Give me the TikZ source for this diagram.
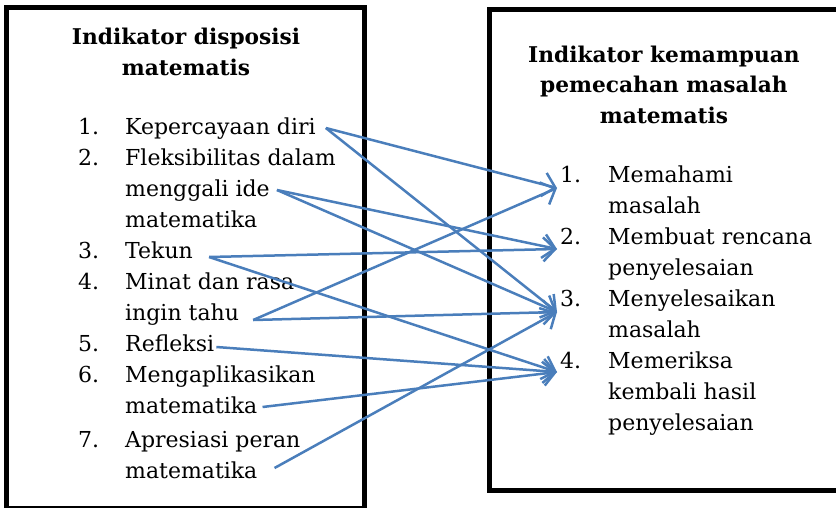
\documentclass[tikz,border=0pt]{standalone}
\usepackage{fontspec}
\setmainfont{DejaVu Serif}
\usetikzlibrary{arrows.meta}
\definecolor{garisbiru}{RGB}{74,126,187}
\newcommand{\isifont}{\fontsize{22}{31}\selectfont}
\newcommand{\judulfont}{\fontsize{21.7}{30.5}\selectfont\bfseries}

\begin{document}
\begin{tikzpicture}[x=1pt,y=-1pt,
	kotak/.style={draw,line width=5pt},
	judul/.style={font=\judulfont,align=center,anchor=base,inner sep=0pt},
	nomor/.style={font=\isifont,anchor=base west,inner sep=0pt},
	baris/.style={font=\isifont,anchor=base west,inner sep=0pt},
	panah/.style={draw=garisbiru,line width=2.5pt,-{Straight Barb[length=12pt,width=24pt]}}]
	\useasboundingbox (0,0) rectangle (836,507);
	\clip (0,0) rectangle (836,507);
	% kotak kiri dan kanan
	\draw[kotak] (6.5,7.5) rectangle (364.5,508.5);
	\draw[kotak] (489,9.5) rectangle (842,490.5);
	% disposisi
	\node[judul](jkiri) at (186,75) {Indikator disposisi\\matematis};
	\node[nomor](n1) at (78,134) {1.};
	\node[baris](kep) at (125,134) {Kepercayaan diri};
	\node[nomor](n2) at (78,165) {2.};
	\node[baris](fleks) at (125,165) {Fleksibilitas dalam};
	\node[baris](ide) at (125,196) {menggali ide};
	\node[baris](ide2) at (125,227) {matematika};
	\node[nomor](n3) at (78,258) {3.};
	\node[baris](tekun) at (125,258) {Tekun};
	\node[nomor](n4) at (78,289) {4.};
	\node[baris](minat) at (125,289) {Minat dan rasa};
	\node[baris](tahu) at (125,320) {ingin tahu};
	\node[nomor](n5) at (78,351) {5.};
	\node[baris](refl) at (125,351) {Refleksi};
	\node[nomor](n6) at (78,382) {6.};
	\node[baris](aplik) at (125,382) {Mengaplikasikan};
	\node[baris](aplik2) at (125,413) {matematika};
	\node[nomor](n7) at (78,447) {7.};
	\node[baris](apres) at (125,447) {Apresiasi peran};
	\node[baris](apres2) at (125,478) {matematika};
	% pemecahan masalah
	\node[judul](jkanan) at (664,123) {Indikator kemampuan\\pemecahan masalah\\matematis};
	\node[nomor](r1) at (560,182) {1.};
	\node[baris](paham) at (608,182) {Memahami};
	\node[baris] at (608,213) {masalah};
	\node[nomor](r2) at (560,244) {2.};
	\node[baris](rencana) at (608,244) {Membuat rencana};
	\node[baris] at (608,275) {penyelesaian};
	\node[nomor](r3) at (560,306) {3.};
	\node[baris](selesai) at (608,306) {Menyelesaikan};
	\node[baris] at (608,337) {masalah};
	\node[nomor](r4) at (560,368) {4.};
	\node[baris](periksa) at (608,368) {Memeriksa};
	\node[baris] at (608,399) {kembali hasil};
	\node[baris] at (608,430) {penyelesaian};
	% ujung panah
	\coordinate (a1) at ([xshift=10pt,yshift=6pt]kep.base east);
	\coordinate (a2) at ([xshift=7pt,yshift=6pt]ide.base east);
	\coordinate (a3) at ([xshift=16pt,yshift=1pt]tekun.base east);
	\coordinate (a4) at ([xshift=14pt]tahu.base east);
	\coordinate (a5) at ([xshift=2pt,yshift=4pt]refl.base east);
	\coordinate (a6) at ([xshift=5pt,yshift=6pt]aplik2.base east);
	\coordinate (a7) at ([xshift=17pt,yshift=10pt]apres2.base east);
	\coordinate (t1) at ([xshift=-3pt,yshift=-6pt]r1.base west);
	\coordinate (t2) at ([xshift=-3pt,yshift=-5pt]r2.base west);
	\coordinate (t3) at ([xshift=-3pt,yshift=-6pt]r3.base west);
	\coordinate (t4) at ([xshift=-3pt,yshift=-4pt]r4.base west);
	\draw[panah] (a1) -- (t1);
	\draw[panah] (a1) -- (t3);
	\draw[panah] (a2) -- (t2);
	\draw[panah] (a2) -- (t3);
	\draw[panah] (a3) -- (t2);
	\draw[panah] (a3) -- (t4);
	\draw[panah] (a4) -- (t1);
	\draw[panah] (a4) -- (t3);
	\draw[panah] (a5) -- (t4);
	\draw[panah] (a6) -- (t4);
	\draw[panah] (a7) -- (t3);
\end{tikzpicture}
\end{document}
